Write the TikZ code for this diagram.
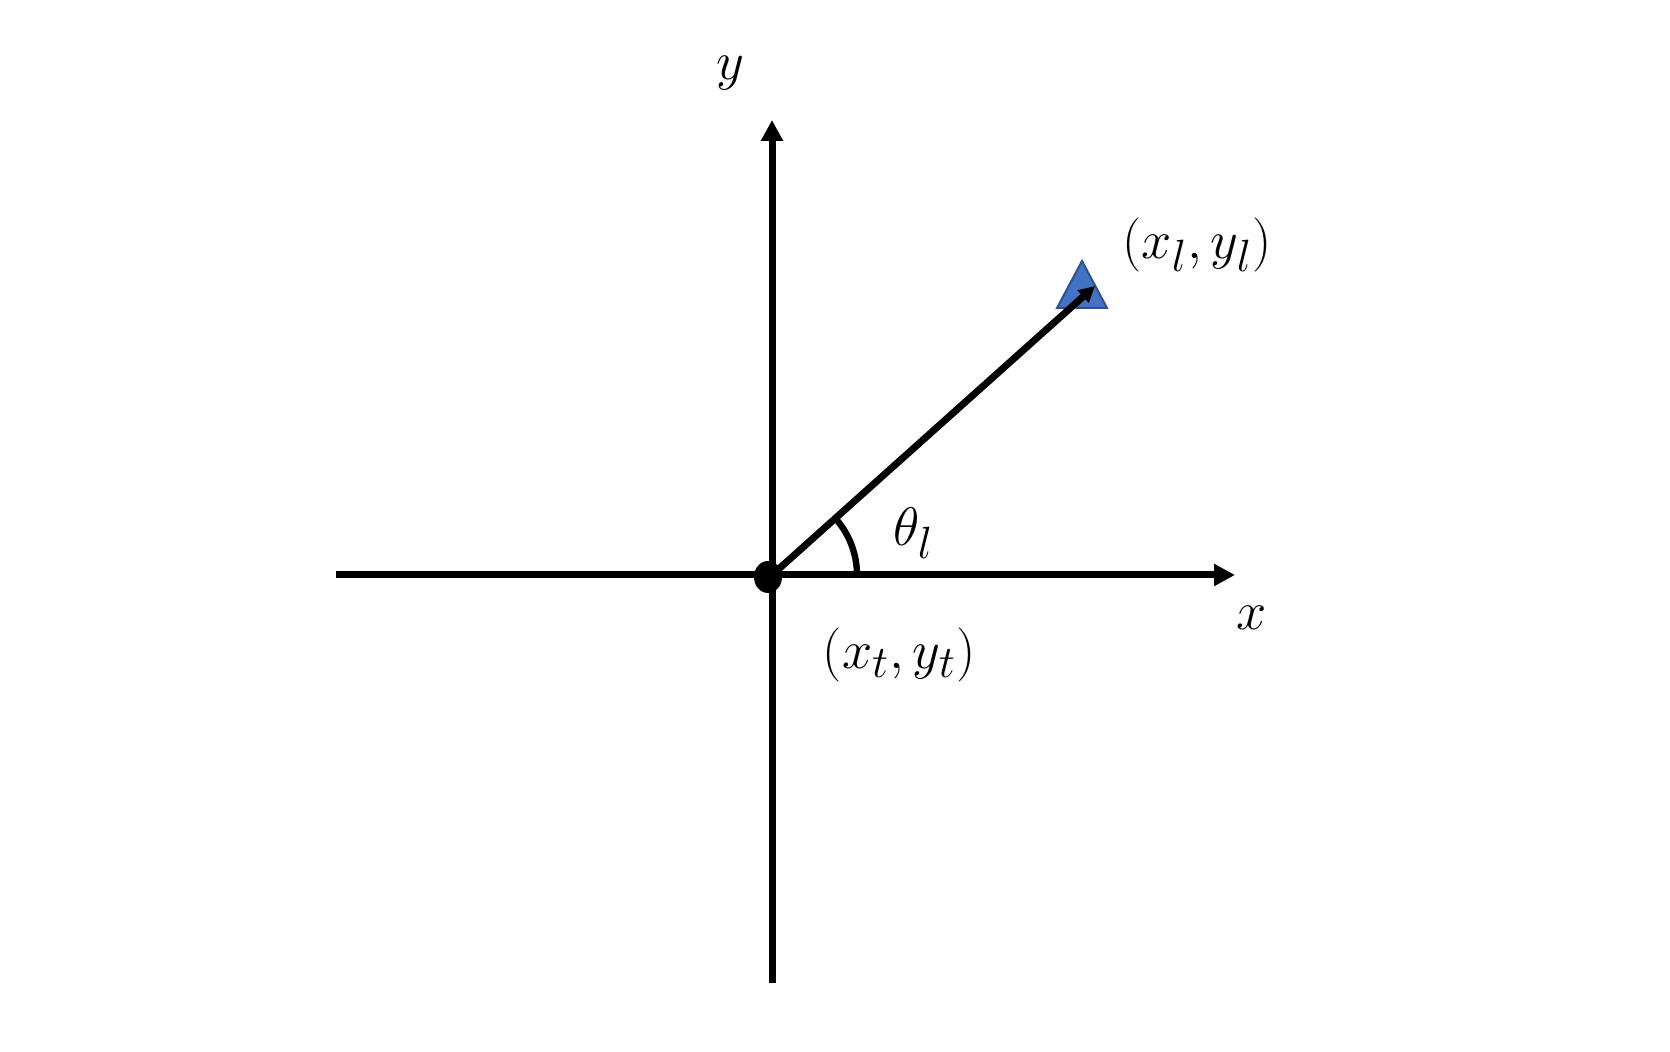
\documentclass[tikz,border=0pt]{standalone}
\usepackage{graphicx}
\usetikzlibrary{arrows.meta,shapes.geometric}
\definecolor{triblue}{HTML}{4472C4}
\definecolor{triedge}{HTML}{2F528F}
\newcommand{\biglbl}[1]{\scalebox{1.09}{$#1$}}
\begin{document}
\begin{tikzpicture}[x=0.5pt,y=-0.5pt,
  axis/.style={line width=3.5pt,-{Triangle[length=10.5pt,width=10.5pt]}},
  vec/.style={line width=3.5pt,-{Triangle[length=8pt,width=8pt]}},
  lbl/.style={font=\fontsize{24.88}{30}\selectfont,inner sep=0pt}]
\useasboundingbox (0,0) rectangle (1670,1052);
\coordinate (O) at (772,575);
\coordinate (xl) at (336,575);
\coordinate (xr) at (1235,575);
\coordinate (yb) at (772,983);
\coordinate (yt) at (772,120);
\coordinate (L) at (1095,286);
\coordinate (arcstart) at (857,575);
% axes
\draw[line width=3.5pt] (xl) -- (O);
\draw[axis] (O) -- (xr);
\draw[line width=3.5pt] (yb) -- (O);
\draw[axis] (O) -- (yt);
% landmark triangle
\fill[triblue,draw=triedge,line width=1pt] (1082,261) -- (1107,308) -- (1057,308) -- cycle;
\node[inner sep=0pt,minimum size=0pt] (lm) at (1082,292) {};
% vector
\draw[vec] (O) -- (L);
% angle arc
\draw[line width=3.2pt] (arcstart) arc[start angle=0,end angle=41.8,radius=42.5pt];
\draw[line width=0.8pt] (O) -- (arcstart);
% dot
\node[ellipse,fill=black,minimum width=14pt,minimum height=16pt,inner sep=0pt] (dot) at (768,577) {};
% labels
\node[lbl] (ylab) at (730,73) {\biglbl{y}};
\node[lbl] (xlab) at (1252,618) {\biglbl{x}};
\node[lbl] (theta) at (913,533) {\biglbl{\theta_l}};
\node[lbl] (tpos) at (899,655) {\biglbl{(x_t,y_t)}};
\node[lbl] (lpos) at (1197,245) {\biglbl{(x_l,y_l)}};
\end{tikzpicture}
\end{document}
